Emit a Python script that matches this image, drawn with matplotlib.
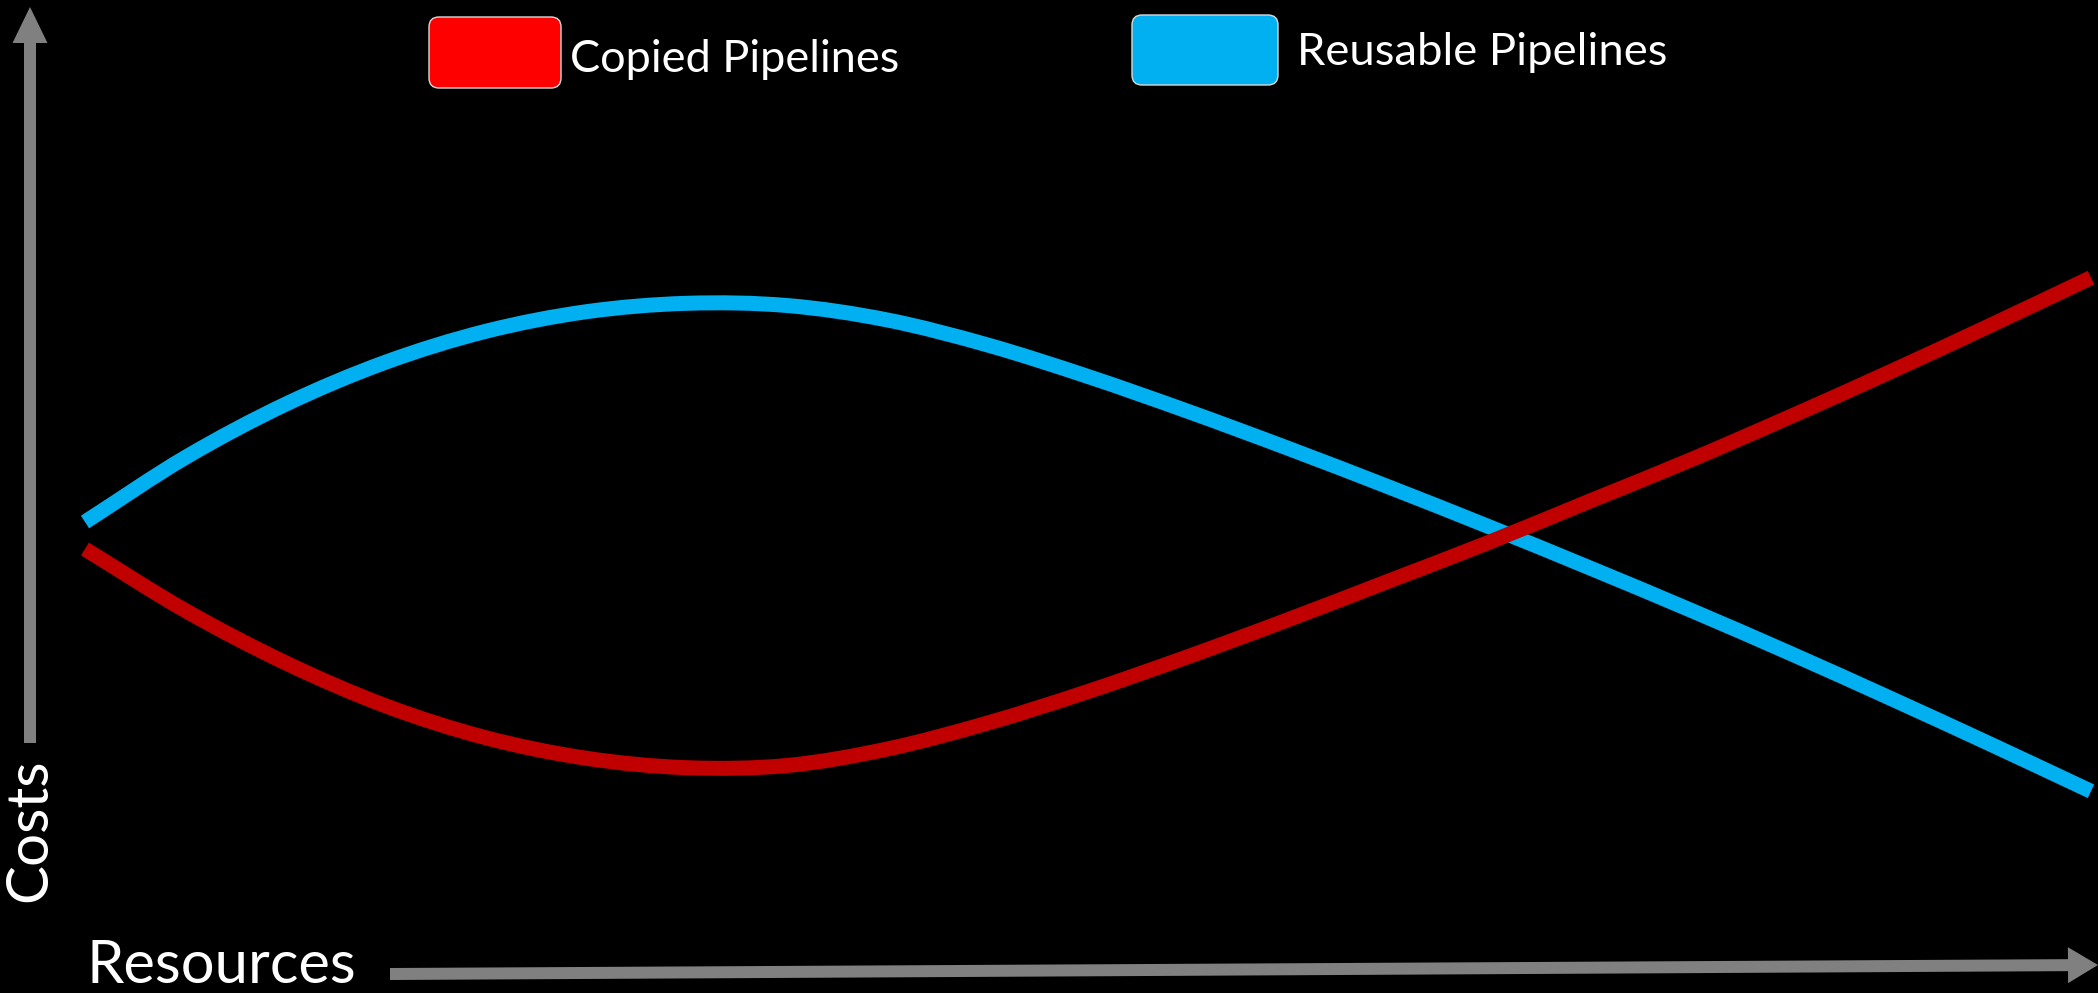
import matplotlib
matplotlib.use("Agg")
import matplotlib.pyplot as plt
from matplotlib.patches import FancyArrow, FancyBboxPatch, PathPatch
from matplotlib.path import Path

# ---- data (resources vs costs, arbitrary units) ----
resources = [0.0, 0.5, 1.0, 1.5, 2.0, 2.5, 3.0, 3.5, 4.0, 4.5, 5.0,
             5.5, 6.0, 6.5, 7.0, 7.5, 8.0, 8.5, 9.0, 9.5, 10.0]
reusable_costs = [6.300, 7.375, 8.263, 8.965, 9.480, 9.805, 9.945, 9.908, 9.667, 9.250, 8.725,
                  8.142, 7.525, 6.883, 6.220, 5.537, 4.837, 4.112, 3.362, 2.595, 1.812]
copied_costs = [5.850, 4.825, 3.953, 3.235, 2.703, 2.362, 2.205, 2.242, 2.517, 2.950, 3.475,
                4.058, 4.675, 5.317, 5.963, 6.647, 7.330, 8.055, 8.805, 9.580, 10.372]
series_labels = ["Copied Pipelines", "Reusable Pipelines"]
x_label = "Resources"
y_label = "Costs"

RED = "#C00000"
RED_BOX = "#FF0000"
BLUE = "#00B0F0"
GRAY = "#808080"
FONT = ["Lato", "DejaVu Sans"]


def smooth_path(xs, ys):
    """Cubic Hermite (Bezier) path through the data points, i.e. a smoothed line."""
    n = len(xs)
    slopes = []
    for i in range(n):
        if i == 0:
            m = (ys[1] - ys[0]) / (xs[1] - xs[0])
        elif i == n - 1:
            m = (ys[-1] - ys[-2]) / (xs[-1] - xs[-2])
        else:
            m = (ys[i + 1] - ys[i - 1]) / (xs[i + 1] - xs[i - 1])
        slopes.append(m)
    verts = [(xs[0], ys[0])]
    codes = [Path.MOVETO]
    for i in range(n - 1):
        h = xs[i + 1] - xs[i]
        verts += [(xs[i] + h / 3, ys[i] + slopes[i] * h / 3),
                  (xs[i + 1] - h / 3, ys[i + 1] - slopes[i + 1] * h / 3),
                  (xs[i + 1], ys[i + 1])]
        codes += [Path.CURVE4] * 3
    return Path(verts, codes)


W, H = 2098, 993
fig = plt.figure(figsize=(W / 100, H / 100), dpi=100, facecolor="black")

# main plotting axes
ax = fig.add_axes([0, 0, 1, 1], facecolor="black")
ax.set_xlim(-0.4237, 10.035)
ax.set_ylim(-1.55, 15.0)
ax.axis("off")
ax.add_patch(PathPatch(smooth_path(resources, reusable_costs), fill=False,
                       edgecolor=BLUE, lw=10.8, capstyle="butt", joinstyle="round",
                       zorder=3))
ax.add_patch(PathPatch(smooth_path(resources, copied_costs), fill=False,
                       edgecolor=RED, lw=10.8, capstyle="butt", joinstyle="round",
                       zorder=4))

# overlay axes in pixel units for decorations
ov = fig.add_axes([0, 0, 1, 1], facecolor="none")
ov.set_xlim(0, W)
ov.set_ylim(H, 0)
ov.axis("off")

# axis arrows
ov.add_patch(FancyArrow(30, 743, 0, 7 - 743, width=12, head_width=35, head_length=36,
                        length_includes_head=True, color=GRAY, lw=0))
ov.add_patch(FancyArrow(390, 974, 2098 - 390, 965 - 974, width=12, head_width=36,
                        head_length=30, length_includes_head=True, color=GRAY, lw=0))

# axis labels
ov.text(30, 830, y_label, rotation=90, ha="center", va="center", color="white",
        fontsize=42, family=FONT)
ov.text(86, 983, x_label, ha="left", va="baseline", color="white",
        fontsize=43, family=FONT)

# legend
ov.add_patch(FancyBboxPatch((429, 17), 132, 71, boxstyle="round,pad=0,rounding_size=10",
                            facecolor=RED_BOX, edgecolor="#d9d9d9", lw=1.0))
ov.text(570, 72, series_labels[0], ha="left", va="baseline", color="white",
        fontsize=32.5, family=FONT)
ov.add_patch(FancyBboxPatch((1132, 15), 146, 70, boxstyle="round,pad=0,rounding_size=10",
                            facecolor=BLUE, edgecolor="#d9d9d9", lw=1.0))
ov.text(1297, 65, series_labels[1], ha="left", va="baseline", color="white",
        fontsize=32.7, family=FONT)

fig.savefig("out.png", dpi=100, facecolor="black")
